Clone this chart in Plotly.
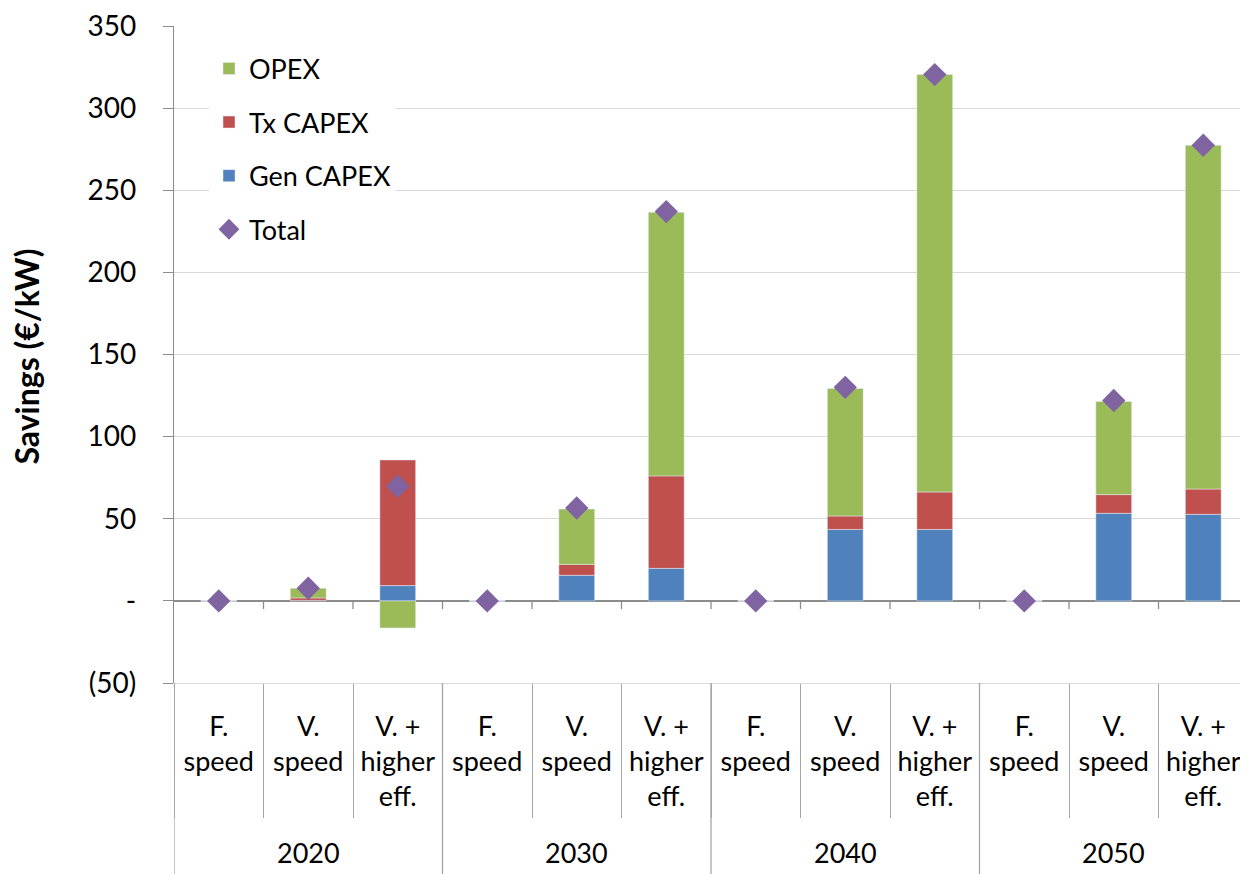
import plotly.graph_objects as go

years = ["2020", "2030", "2040", "2050"]
configs = ["F.<br>speed", "V.<br>speed", "V. +<br>higher<br>eff."]

gen_capex = [0, 0.3, 9.3, 0, 15.6, 19.8, 0, 43.5, 43.5, 0, 53.3, 52.7]
tx_capex = [0, 1.5, 76.5, 0, 6.6, 56.3, 0, 8.2, 22.8, 0, 11.4, 15.4]
opex = [0, 5.9, -16.5, 0, 33.7, 160.5, 0, 77.6, 254.1, 0, 56.7, 209.3]
total = [0, 7.7, 69.8, 0, 56.5, 237.0, 0, 130.0, 320.4, 0, 122.0, 277.4]

y_ticks = [-50, 0, 50, 100, 150, 200, 250, 300, 350]
y_ticktext = ["(50)", "-", "50", "100", "150", "200", "250", "300", "350"]

keys = [f"{y} {c}" for y in years for c in configs]
inner_labels = [c for y in years for c in configs]

FONT = "Lato"
GREEN, RED, BLUE, PURPLE = "#9BBB59", "#C0504D", "#4F81BD", "#8064A2"
AXIS = "#8C8C8C"
GRID = "#D9D9D9"
DIV = "#A6A6A6"

fig = go.Figure()
fig.add_trace(go.Bar(x=keys, y=gen_capex, name="Gen CAPEX", marker_color=BLUE,
                     legendgroup="g", legendrank=3))
fig.add_trace(go.Bar(x=keys, y=tx_capex, name="Tx CAPEX", marker_color=RED,
                     legendgroup="t", legendrank=2))
fig.add_trace(go.Bar(x=keys, y=opex, name="OPEX", marker_color=GREEN,
                     legendgroup="o", legendrank=1))
fig.add_trace(go.Scatter(x=keys, y=total, name="Total", mode="markers",
                         marker=dict(symbol="diamond", size=18, color=PURPLE),
                         legendgroup="z", legendrank=4))

# page body has an 8px margin: figure is sized so it fits the 1248x874 window
W, H = 1240, 866
L, R, T, B = 166, 0, 15, 191
ph = H - T - B
pw = W - L - R

fig.update_layout(
    width=W, height=H,
    margin=dict(l=L, r=R, t=T, b=B),
    barmode="relative", bargap=0.6,
    plot_bgcolor="white", paper_bgcolor="white",
    font=dict(family=FONT, size=28, color="#000000"),
    showlegend=True,
    legend=dict(x=(201 - L) / pw, xanchor="left",
                y=0.972, yanchor="top",
                bgcolor="white", borderwidth=0,
                traceorder="grouped", tracegroupgap=15.5,
                font=dict(family=FONT, size=27)),
)

fig.update_yaxes(range=[-50, 350], tickvals=y_ticks, ticktext=y_ticktext,
                 showgrid=True, gridcolor=GRID, gridwidth=1.3,
                 zeroline=True, zerolinecolor=AXIS, zerolinewidth=1.6,
                 showline=True, linecolor=AXIS, linewidth=1.3,
                 ticks="outside", ticklen=10, tickcolor=AXIS, tickwidth=1.3,
                 ticklabelstandoff=21, ticklabeloverflow="allow",
                 tickfont=dict(family=FONT, size=28))

fig.update_xaxes(type="category", tickvals=keys, ticktext=inner_labels,
                 range=[-0.5, 11.5],
                 showline=True, linecolor=GRID, linewidth=1.3,
                 ticks="outside", tickson="boundaries", ticklen=134,
                 tickcolor=DIV, tickwidth=1.3,
                 ticklabelstandoff=19, ticklabeloverflow="allow",
                 tickfont=dict(family=FONT, size=27))

# y-axis title
fig.add_annotation(text="<b>Savings (€/kW)</b>", textangle=-90,
                   xref="paper", yref="paper",
                   x=(18 - L) / pw, y=(H - B - 347) / ph,
                   xanchor="center", yanchor="middle", showarrow=False,
                   font=dict(family=FONT, size=32))

# year group labels and group dividers
for gi, yr in enumerate(years):
    fig.add_annotation(text=yr, xref="x", yref="paper",
                       x=gi * 3 + 1, y=-(845 - (H - B)) / ph,
                       xanchor="center", yanchor="middle", showarrow=False,
                       font=dict(family=FONT, size=27))
for b in [-0.5, 2.5, 5.5, 8.5, 11.5]:
    fig.add_shape(type="line", xref="x", yref="paper",
                  x0=b, x1=b, y0=0, y1=-(B + 5) / ph,
                  line=dict(color=DIV, width=1.3))
# small tick marks on the zero axis
for i in range(len(keys) - 1):
    fig.add_shape(type="line", xref="x", yref="y",
                  x0=i + 0.5, x1=i + 0.5, y0=0, y1=-5,
                  line=dict(color=AXIS, width=1.3))

fig.write_html("out.html")
